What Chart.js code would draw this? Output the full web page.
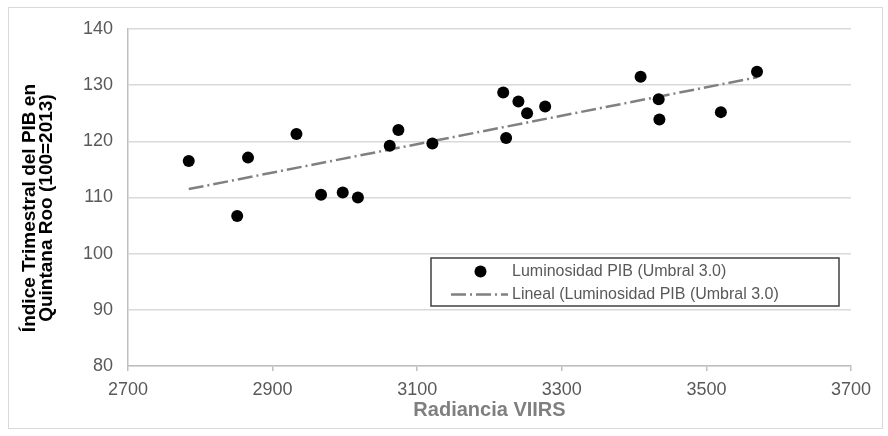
<!DOCTYPE html>
<html>
<head>
<meta charset="utf-8">
<script src="https://cdn.jsdelivr.net/npm/chart.js"></script>
<style>
	body { margin: 0; background: #fff; }
</style>
</head>
<body>
<canvas id="myChart" width="888" height="436"></canvas>
<script>
// Datos
var radiancia = [2784, 2851, 2866, 2933, 2967, 2997, 3018, 3062, 3074, 3121,
	3219, 3223, 3240, 3252, 3277, 3409, 3434, 3435, 3520, 3570];
var indicePib = [116.5, 106.7, 117.1, 121.3, 110.5, 110.9, 110.0, 119.2, 122.0, 119.6,
	128.7, 120.6, 127.1, 125.0, 126.2, 131.5, 127.5, 123.9, 125.2, 132.4];
var linealX = [2784, 3570];
var linealY = [111.5, 131.4];
var xTicks = [2700, 2900, 3100, 3300, 3500, 3700];
var yTicks = [80, 90, 100, 110, 120, 130, 140];

var fuente = '"Liberation Sans", Arial, sans-serif';
// espacios al final para bajar un poco el titulo vertical
var relleno = '\u00a0\u00a0\u00a0\u00a0';

// Marco gris alrededor del grafico
var marco = {
	id: 'marco',
	beforeDraw: function(chart) {
		var ctx = chart.ctx;
		ctx.save();
		ctx.fillStyle = '#fff';
		ctx.fillRect(0, 0, chart.width, chart.height);
		ctx.strokeStyle = '#d9d9d9';
		ctx.lineWidth = 1;
		ctx.strokeRect(8.5, 7.5, 874, 421);
		ctx.restore();
	}
};

// Leyenda con recuadro dentro del area del grafico
var leyenda = {
	id: 'leyenda',
	afterDraw: function(chart) {
		var ctx = chart.ctx;
		var ds = chart.data.datasets;
		ctx.save();
		ctx.fillStyle = '#fff';
		ctx.fillRect(431, 258, 408, 48);
		ctx.strokeStyle = '#404040';
		ctx.lineWidth = 1.5;
		ctx.strokeRect(431, 258, 408, 48);

		ctx.fillStyle = '#000';
		ctx.beginPath();
		ctx.arc(480.5, 271.5, 6, 0, Math.PI * 2);
		ctx.fill();

		ctx.strokeStyle = ds[1].borderColor;
		ctx.lineWidth = ds[1].borderWidth;
		ctx.setLineDash(ds[1].borderDash);
		ctx.beginPath();
		ctx.moveTo(451, 294.5);
		ctx.lineTo(508, 294.5);
		ctx.stroke();
		ctx.setLineDash([]);

		ctx.fillStyle = '#595959';
		ctx.font = '16px ' + fuente;
		ctx.textBaseline = 'middle';
		ctx.textAlign = 'left';
		ctx.fillText(ds[0].label, 512, 271.5);
		ctx.fillText(ds[1].label, 512, 294.5);
		ctx.restore();
	}
};

var ctx = document.getElementById('myChart').getContext('2d');
var myChart = new Chart(ctx, {
	type: 'scatter',
	data: {
		datasets: [{
			label: 'Luminosidad PIB (Umbral 3.0)',
			data: radiancia.map(function(x, i) { return { x: x, y: indicePib[i] }; }),
			backgroundColor: '#000',
			borderWidth: 0,
			pointRadius: 6,
			pointHoverRadius: 6
		}, {
			label: 'Lineal (Luminosidad PIB (Umbral 3.0)',
			type: 'line',
			data: linealX.map(function(x, i) { return { x: x, y: linealY[i] }; }),
			borderColor: '#808080',
			borderWidth: 2.5,
			borderDash: [15, 4, 2, 4],
			pointRadius: 0,
			fill: false
		}]
	},
	options: {
		responsive: false,
		animation: false,
		layout: {
			padding: { left: 20, right: 37, top: 29, bottom: 8 }
		},
		plugins: {
			legend: { display: false },
			tooltip: { enabled: false }
		},
		scales: {
			x: {
				type: 'linear',
				min: xTicks[0],
				max: xTicks[xTicks.length - 1],
				ticks: {
					stepSize: xTicks[1] - xTicks[0],
					color: '#595959',
					font: { family: fuente, size: 18 },
					padding: 8,
					callback: function(v) { return String(v); }
				},
				grid: {
					drawOnChartArea: false,
					drawTicks: true,
					tickLength: 5,
					color: '#bfbfbf',
					lineWidth: 1.5
				},
				border: { color: '#bfbfbf', width: 1.5 },
				title: {
					display: true,
					text: 'Radiancia VIIRS',
					color: '#7f7f7f',
					font: { family: fuente, size: 20, weight: 'bold' },
					padding: { top: 0, bottom: 6 }
				},
				afterFit: function(scale) { scale.height = 62; }
			},
			y: {
				min: yTicks[0],
				max: yTicks[yTicks.length - 1],
				ticks: {
					stepSize: yTicks[1] - yTicks[0],
					color: '#595959',
					font: { family: fuente, size: 18 },
					padding: 15
				},
				grid: {
					drawTicks: false,
					color: '#d9d9d9',
					lineWidth: 1.5
				},
				border: { color: '#bfbfbf', width: 1.5 },
				title: {
					display: true,
					text: ['Índice Trimestral del PIB en' + relleno, 'Quintana Roo (100=2013)' + relleno],
					color: '#000',
					font: { family: fuente, size: 19, weight: 'bold', lineHeight: 0.9 },
					padding: { top: 1.5, bottom: 0 }
				},
				afterFit: function(scale) { scale.width = 108; }
			}
		}
	},
	plugins: [marco, leyenda]
});
</script>
</body>
</html>
